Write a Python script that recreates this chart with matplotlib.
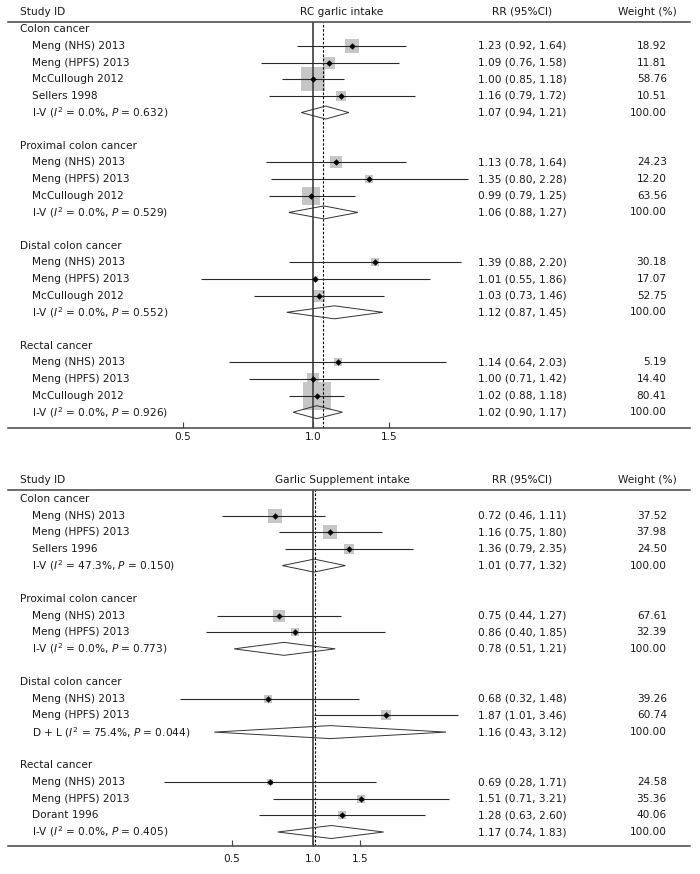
import numpy as np
import matplotlib
matplotlib.use("Agg")
import matplotlib.pyplot as plt

# ---- data ----
groups = ["Colon cancer", "Proximal colon cancer", "Distal colon cancer", "Rectal cancer"]

# RC garlic intake
top_group = [0, 0, 0, 0, 1, 1, 1, 2, 2, 2, 3, 3, 3]
top_names = ["Meng (NHS) 2013", "Meng (HPFS) 2013", "McCullough 2012", "Sellers 1998",
             "Meng (NHS) 2013", "Meng (HPFS) 2013", "McCullough 2012",
             "Meng (NHS) 2013", "Meng (HPFS) 2013", "McCullough 2012",
             "Meng (NHS) 2013", "Meng (HPFS) 2013", "McCullough 2012"]
top_rr = [1.23, 1.09, 1.00, 1.16, 1.13, 1.35, 0.99, 1.39, 1.01, 1.03, 1.14, 1.00, 1.02]
top_lo = [0.92, 0.76, 0.85, 0.79, 0.78, 0.80, 0.79, 0.88, 0.55, 0.73, 0.64, 0.71, 0.88]
top_hi = [1.64, 1.58, 1.18, 1.72, 1.64, 2.28, 1.25, 2.20, 1.86, 1.46, 2.03, 1.42, 1.18]
top_wt = [18.92, 11.81, 58.76, 10.51, 24.23, 12.20, 63.56, 30.18, 17.07, 52.75, 5.19, 14.40, 80.41]
top_pool_label = ["I-V ($I^2$ = 0.0%, $P$ = 0.632)", "I-V ($I^2$ = 0.0%, $P$ = 0.529)",
                  "I-V ($I^2$ = 0.0%, $P$ = 0.552)", "I-V ($I^2$ = 0.0%, $P$ = 0.926)"]
top_pool_rr = [1.07, 1.06, 1.12, 1.02]
top_pool_lo = [0.94, 0.88, 0.87, 0.90]
top_pool_hi = [1.21, 1.27, 1.45, 1.17]
top_overall = 1.055

# Garlic Supplement intake
bot_group = [0, 0, 0, 1, 1, 2, 2, 3, 3, 3]
bot_names = ["Meng (NHS) 2013", "Meng (HPFS) 2013", "Sellers 1996",
             "Meng (NHS) 2013", "Meng (HPFS) 2013",
             "Meng (NHS) 2013", "Meng (HPFS) 2013",
             "Meng (NHS) 2013", "Meng (HPFS) 2013", "Dorant 1996"]
bot_rr = [0.72, 1.16, 1.36, 0.75, 0.86, 0.68, 1.87, 0.69, 1.51, 1.28]
bot_lo = [0.46, 0.75, 0.79, 0.44, 0.40, 0.32, 1.01, 0.28, 0.71, 0.63]
bot_hi = [1.11, 1.80, 2.35, 1.27, 1.85, 1.48, 3.46, 1.71, 3.21, 2.60]
bot_wt = [37.52, 37.98, 24.50, 67.61, 32.39, 39.26, 60.74, 24.58, 35.36, 40.06]
bot_pool_label = ["I-V ($I^2$ = 47.3%, $P$ = 0.150)", "I-V ($I^2$ = 0.0%, $P$ = 0.773)",
                  "D + L ($I^2$ = 75.4%, $P$ = 0.044)", "I-V ($I^2$ = 0.0%, $P$ = 0.405)"]
bot_pool_rr = [1.01, 0.78, 1.16, 1.17]
bot_pool_lo = [0.77, 0.51, 0.43, 0.74]
bot_pool_hi = [1.32, 1.21, 3.12, 1.83]
bot_overall = 1.02

ticks = [0.5, 1.0, 1.5]

FS = 7.6
LINE = "#2a2a2a"
BOX = "#c6c6c6"
TXT = "#1a1a1a"


def draw_panel(ax, title, grp, names, rr, lo, hi, wt, plab, prr, plo, phi, overall,
               xlim, ylim, boxk, tickpad):
    tr = ax.get_yaxis_transform()
    ax.set_xscale("log")
    ax.set_xlim(*xlim)
    ax.set_ylim(*ylim)

    # header
    hy = ylim[1] - 0.62
    kw = dict(transform=tr, fontsize=FS, va="center", color=TXT, clip_on=False)
    ax.text(0.0176, hy, "Study ID", ha="left", **kw)
    ax.text(0.4897, hy, title, ha="center", **kw)
    ax.text(0.754, hy, "RR (95%CI)", ha="center", **kw)
    ax.text(0.938, hy, "Weight (%)", ha="center", **kw)

    row = 0
    for g in range(len(groups)):
        ax.text(0.0176, row, groups[g], ha="left", **kw)
        row += 1
        for i in range(len(names)):
            if grp[i] != g:
                continue
            # box side ~ 1/se (inverse-variance), like the stata plot
            se = (np.log(hi[i]) - np.log(lo[i])) / (2 * 1.96)
            side = boxk / se * 0.72
            ax.plot(rr[i], row, marker="s", ms=side, color=BOX, mew=0, zorder=1)
            ax.hlines(row, lo[i], hi[i], color=LINE, lw=0.8, zorder=3)
            ax.plot(rr[i], row, marker="D", ms=3.3, color="black", mew=0, zorder=4)
            ax.text(0.0352, row, names[i], ha="left", **kw)
            ax.text(0.754, row, "%.2f (%.2f, %.2f)" % (rr[i], lo[i], hi[i]), ha="center", **kw)
            ax.text(0.966, row, "%.2f" % wt[i], ha="right", **kw)
            row += 1
        h = 0.39
        ax.fill([plo[g], prr[g], phi[g], prr[g]], [row, row - h, row, row + h],
                facecolor="none", edgecolor="#333333", lw=0.7, zorder=3)
        ax.text(0.0352, row, plab[g], ha="left", **kw)
        ax.text(0.754, row, "%.2f (%.2f, %.2f)" % (prr[g], plo[g], phi[g]), ha="center", **kw)
        ax.text(0.966, row, "100.00", ha="right", **kw)
        row += 2

    ax.axvline(1.0, color="#404040", lw=1.2, zorder=2)
    ax.axvline(overall, color="black", lw=0.8, ls=(0, (2.2, 1.6)), zorder=2)

    for s in ["left", "right"]:
        ax.spines[s].set_visible(False)
    for s in ["top", "bottom"]:
        ax.spines[s].set_color("#444444")
        ax.spines[s].set_linewidth(1.1)
    ax.set_yticks([])
    ax.set_xticks(ticks)
    ax.set_xticklabels(["%.1f" % t for t in ticks], fontsize=FS, color=TXT)
    ax.minorticks_off()
    ax.tick_params(axis="x", direction="in", length=4.5, width=0.8, color="#444444", pad=tickpad)


fig = plt.figure(figsize=(7, 8.74), dpi=100)

ax1 = fig.add_axes([8 / 700, 1 - 428 / 874, 682 / 700, 406 / 874])
draw_panel(ax1, "RC garlic intake", top_group, top_names, top_rr, top_lo, top_hi, top_wt,
           top_pool_label, top_pool_rr, top_pool_lo, top_pool_hi, top_overall,
           (0.1975, 7.43), (23.95, -0.44), 2.09, 3)

ax2 = fig.add_axes([8 / 700, 1 - 846 / 874, 682 / 700, 356 / 874])
draw_panel(ax2, "Garlic Supplement intake", bot_group, bot_names, bot_rr, bot_lo, bot_hi, bot_wt,
           bot_pool_label, bot_pool_rr, bot_pool_lo, bot_pool_hi, bot_overall,
           (0.0738, 25.1), (20.84, -0.54), 3.0, 6)

fig.savefig("out.png", dpi=100)
